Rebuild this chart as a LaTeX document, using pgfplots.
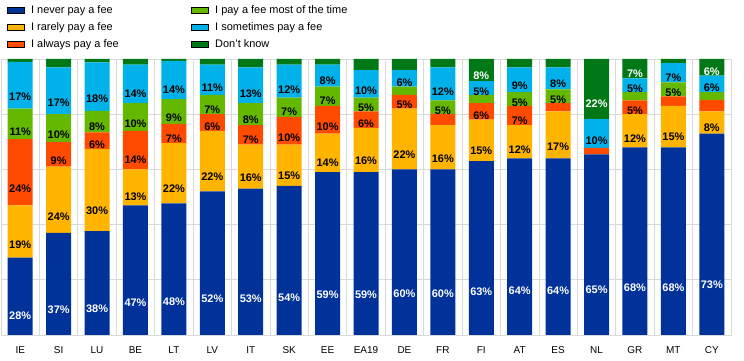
\documentclass[border=0pt]{standalone}
\usepackage{pgfplots}
\pgfplotsset{compat=1.18}
\usepackage{pgfplotstable}
\usepackage{fontspec}
\setmainfont{Liberation Sans}
\definecolor{cnever}{HTML}{003299}
\definecolor{crarely}{HTML}{FFB400}
\definecolor{calways}{HTML}{FF4B00}
\definecolor{cmost}{HTML}{65B800}
\definecolor{csome}{HTML}{00B1EA}
\definecolor{cdk}{HTML}{007816}
\definecolor{gridc}{HTML}{D9D9D9}
\pgfplotstableread{
x never rarely always most sometimes dk
0  28   19   24  11   17   1
1  37   24   9   10   17   3
2  37.6 29.8 6   7.8  17.6 1.2
3  47   13   14  10   14   2
4  47.7 21.8 7   9    13.8 0.7
5  52   22   6   7    11   2
6  53   16   7   8    13   3
7  54   15   10  7    12   2
8  59   14   10  7    8    2
9  59   16   6   5    10   4
10 60   22   5   3    6    4
11 60   16   4   5    12   3
12 63   15   6   3    5    8
13 64   12   7   5    9    3
14 64   17   3   5    8    3
15 65.4 0    2.4 0    10.4 21.8
16 68   12   5   3    5    7
17 68   15   3.5 5    7    1.5
18 73   8    4.2 2.8  6    6
}\data
\begin{document}
\begin{tikzpicture}
\begin{axis}[
  scale only axis, width=730bp, height=276bp,
  ybar stacked, bar width=25bp,
  xmin=-0.5, xmax=18.5, ymin=0, ymax=100,
  xtick={0,...,18},
  xticklabels={IE,SI,LU,BE,LT,LV,IT,SK,EE,EA19,DE,FR,FI,AT,ES,NL,GR,MT,CY},
  minor xtick={-0.5,0.5,...,18.5}, xminorgrids,
  ytick={0,20,...,100}, yticklabels={}, ymajorgrids,
  grid style={gridc, line width=0.8pt},
  minor grid style={gridc, line width=0.8pt},
  axis line style={gridc, line width=0.8pt},
  major tick length=0pt, minor tick length=0pt,
  tick label style={font=\fontsize{10}{12}\selectfont},
  xticklabel style={yshift=-8bp},
  /pgf/number format/assume math mode=true,
  calc offset/.code={%
    \pgfkeys{/pgf/fpu=true,/pgf/fpu/output format=fixed}%
    \pgfmathsetmacro\segoff{\pgfplotspointmeta*0.69}%
    \pgfmathsetmacro\segshow{\pgfplotspointmeta>=4.5 ? 1 : 0}%
    \pgfkeys{/pgf/fpu=false}%
  },
  every node near coord/.append style={/pgfplots/calc offset, anchor=center, yshift=-\segoff bp, font=\bfseries\fontsize{11}{12}\selectfont, inner sep=0pt},
  nodes near coords={\ifdim\segshow pt>0.5pt \pgfmathprintnumber[fixed,precision=0,assume math mode=true]{\pgfplotspointmeta}\%\fi},
  legend columns=3, transpose legend,
  legend cell align=left,
  legend image code/.code={\fill[#1] (0bp,-4.5bp) rectangle (9bp,4.5bp);},
  legend style={at={(0,1)}, anchor=south west, xshift=3bp, yshift=6bp, draw=none, fill=none,
    font=\fontsize{11}{13}\selectfont, row sep=4bp,
    /tikz/every odd column/.append style={column sep=5bp},
    /tikz/every even column/.append style={column sep=71bp},
    nodes={inner sep=1.5bp, text height=8bp, text depth=2bp}},
  area legend,
]
\addplot[fill=cnever, draw=none, every node near coord/.append style={text=white}] table[x=x,y=never] {\data};
\addplot[fill=crarely, draw=none] table[x=x,y=rarely] {\data};
\addplot[fill=calways, draw=none] table[x=x,y=always] {\data};
\addplot[fill=cmost, draw=none] table[x=x,y=most] {\data};
\addplot[fill=csome, draw=none] table[x=x,y=sometimes] {\data};
\addplot[fill=cdk, draw=none, every node near coord/.append style={text=white}] table[x=x,y=dk] {\data};
\legend{I never pay a fee, I rarely pay a fee, I always pay a fee, I pay a fee most of the time, I sometimes pay a fee, Don't know}
\end{axis}
\pgfresetboundingbox
\path ([xshift=-1bp,yshift=-26bp]current axis.south west) rectangle ([xshift=13bp,yshift=59bp]current axis.north east);
\end{tikzpicture}
\end{document}
